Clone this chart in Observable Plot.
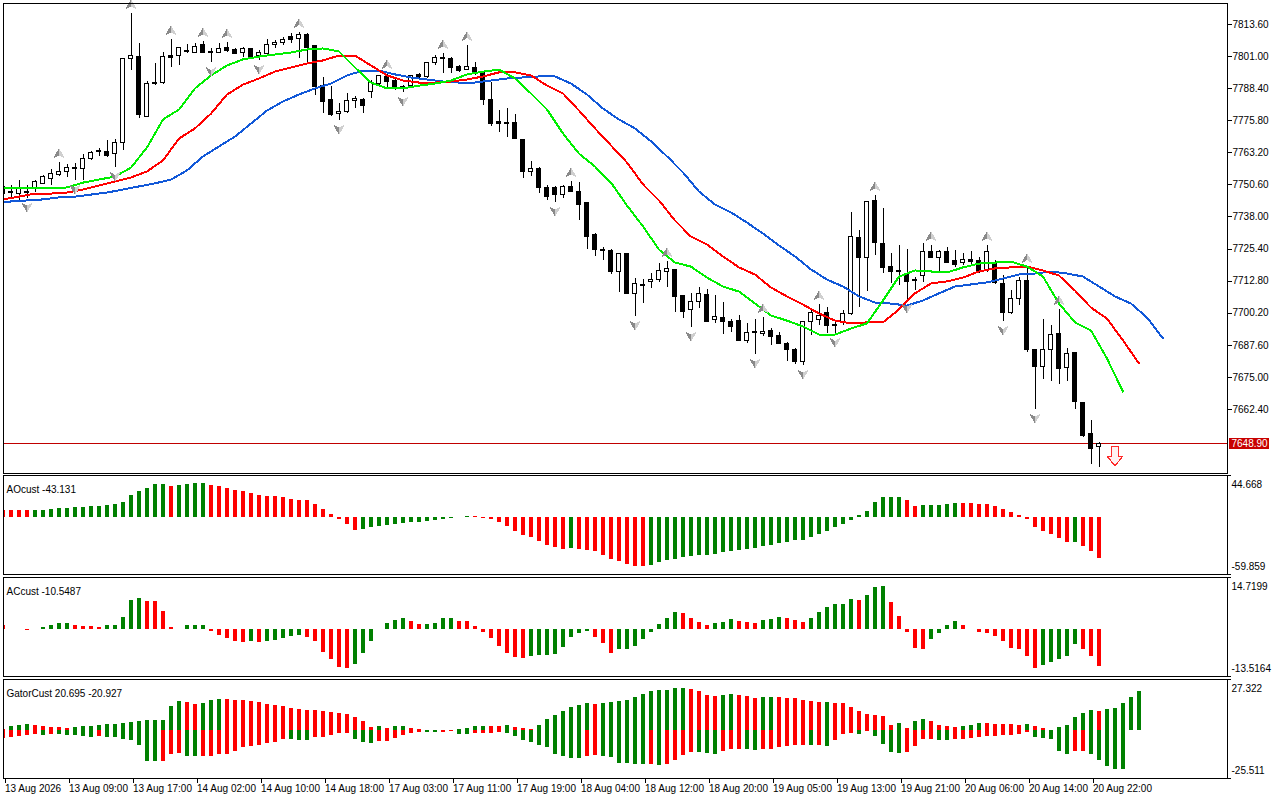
<!DOCTYPE html>
<html>
<head>
<meta charset="utf-8">
<script src="https://cdn.jsdelivr.net/npm/d3@7"></script>
<script src="https://cdn.jsdelivr.net/npm/@observablehq/plot@0.6"></script>
<style>
  html, body { margin: 0; padding: 0; background: #fff; }
  #chart { position: relative; width: 1280px; height: 800px; background: #fff; overflow: hidden; }
  #chart svg { position: absolute; left: 0; background: transparent !important; }
</style>
</head>
<body>
<div id="chart"></div>
<script>
// ---------------- data ----------------
const priceTicks = [7813.6, 7801.0, 7788.4, 7775.8, 7763.2, 7750.6, 7738.0, 7725.4, 7712.8, 7700.2, 7687.6, 7675.0, 7662.4];
const priceRange = [7637.25, 7821.85];
const aoRange = [-59.859, 44.668];
const acRange = [-13.5164, 14.7199];
const gatorRange = [-25.511, 27.322];

const xTickBars = [0, 8, 16, 24, 32, 40, 48, 56, 64, 72, 80, 88, 96, 104, 112, 120, 128, 136];
const xTickLabels = ["13 Aug 2026", "13 Aug 09:00", "13 Aug 17:00", "14 Aug 02:00", "14 Aug 10:00", "14 Aug 18:00",
  "17 Aug 03:00", "17 Aug 11:00", "17 Aug 19:00", "18 Aug 04:00", "18 Aug 12:00", "18 Aug 20:00",
  "19 Aug 05:00", "19 Aug 13:00", "19 Aug 21:00", "20 Aug 06:00", "20 Aug 14:00", "20 Aug 22:00"];

const barOpen = [7749.6, 7747.6, 7747.2, 7747.6, 7748.8, 7751.1, 7753.1, 7754.3, 7755.5, 7757.0,
 7757.0, 7760.6, 7764.1, 7763.7, 7762.9, 7766.9, 7799.9, 7801.0, 7777.4, 7790.4,
 7790.8, 7801.4, 7801.4, 7802.8, 7802.6, 7805.4, 7802.8, 7802.6, 7804.2, 7803.4,
 7802.6, 7803.8, 7801.4, 7802.2, 7805.4, 7806.5, 7808.5, 7808.1, 7809.3, 7805.0,
 7789.6, 7783.8, 7778.6, 7779.4, 7783.4, 7784.1, 7786.9, 7790.4, 7792.8, 7791.6,
 7788.9, 7789.6, 7793.6, 7792.8, 7798.3, 7800.6, 7799.9, 7797.1, 7795.9, 7796.7,
 7794.4, 7784.1, 7775.5, 7774.9, 7775.1, 7768.4, 7755.5, 7757.0, 7749.2, 7749.2,
 7746.8, 7749.6, 7748.0, 7743.3, 7731.1, 7725.0, 7724.8, 7716.2, 7723.3, 7707.9,
 7710.9, 7712.3, 7713.4, 7716.2, 7717.0, 7706.8, 7701.3, 7704.8, 7707.2, 7697.7,
 7698.5, 7696.9, 7697.3, 7689.1, 7692.4, 7692.2, 7693.4, 7691.4, 7688.3, 7685.6,
 7681.2, 7696.6, 7697.7, 7700.1, 7695.6, 7696.2, 7699.7, 7729.9, 7721.7, 7744.1,
 7727.2, 7718.2, 7716.8, 7715.8, 7712.9, 7715.0, 7724.1, 7721.7, 7724.1, 7720.9,
 7720.1, 7721.3, 7720.9, 7716.6, 7719.7, 7711.5, 7700.1, 7705.6, 7712.7, 7685.9,
 7678.9, 7685.6, 7692.2, 7678.5, 7684.4, 7665.1, 7652.6, 7647.5];
const barHigh = [7750.8, 7750.4, 7752.3, 7750.4, 7752.3, 7754.3, 7756.7, 7759.4, 7758.6, 7759.0,
 7762.5, 7763.7, 7764.9, 7768.0, 7768.4, 7800.2, 7817.9, 7806.1, 7791.2, 7798.3,
 7802.6, 7807.7, 7804.6, 7805.7, 7806.1, 7806.9, 7804.2, 7806.1, 7806.5, 7804.2,
 7804.6, 7804.2, 7803.4, 7807.7, 7807.3, 7808.5, 7810.1, 7810.5, 7810.1, 7805.4,
 7792.8, 7789.2, 7782.6, 7786.5, 7785.3, 7784.5, 7791.6, 7793.6, 7794.4, 7792.8,
 7789.6, 7793.6, 7794.4, 7798.7, 7801.4, 7802.2, 7800.6, 7797.5, 7805.4, 7798.7,
 7794.7, 7790.8, 7779.8, 7780.6, 7778.2, 7768.4, 7759.8, 7757.4, 7750.4, 7750.0,
 7750.4, 7751.9, 7751.5, 7743.3, 7731.5, 7726.0, 7725.2, 7723.6, 7723.6, 7713.8,
 7713.4, 7715.8, 7719.7, 7720.5, 7717.4, 7707.2, 7707.9, 7710.3, 7709.5, 7707.2,
 7704.4, 7697.7, 7699.3, 7696.2, 7697.7, 7698.5, 7694.2, 7692.6, 7688.7, 7686.3,
 7696.6, 7701.7, 7703.6, 7702.5, 7697.3, 7701.3, 7739.8, 7732.7, 7744.1, 7746.4,
 7741.3, 7723.6, 7726.8, 7725.2, 7714.2, 7727.6, 7726.8, 7724.8, 7726.0, 7724.8,
 7723.6, 7724.4, 7722.1, 7726.8, 7720.9, 7715.0, 7709.1, 7714.2, 7718.2, 7685.9,
 7697.7, 7695.4, 7701.7, 7686.3, 7684.4, 7665.1, 7658.1, 7649.4];
const barLow = [7746.8, 7745.6, 7744.5, 7745.3, 7747.6, 7750.8, 7750.4, 7753.9, 7753.5, 7752.3,
 7752.3, 7760.2, 7761.8, 7761.4, 7757.4, 7764.1, 7795.5, 7776.7, 7777.4, 7789.6,
 7790.0, 7796.7, 7797.5, 7802.2, 7802.2, 7802.2, 7798.6, 7802.2, 7802.6, 7801.8,
 7800.6, 7800.6, 7799.5, 7801.4, 7804.2, 7805.4, 7806.1, 7800.2, 7798.7, 7785.7,
 7778.6, 7777.4, 7775.9, 7778.6, 7780.6, 7778.6, 7784.5, 7789.6, 7788.5, 7787.7,
 7786.9, 7788.9, 7791.6, 7792.4, 7797.5, 7794.4, 7794.4, 7794.7, 7795.5, 7793.6,
 7781.8, 7773.5, 7771.2, 7769.2, 7768.4, 7753.1, 7753.9, 7747.2, 7744.5, 7743.7,
 7745.3, 7747.6, 7736.6, 7725.2, 7722.5, 7720.9, 7715.4, 7708.3, 7707.6, 7698.9,
 7704.0, 7709.9, 7712.3, 7710.3, 7700.5, 7698.1, 7694.6, 7702.1, 7696.9, 7696.2,
 7691.8, 7692.6, 7689.1, 7688.3, 7684.0, 7691.0, 7687.5, 7687.9, 7681.2, 7680.1,
 7679.7, 7691.4, 7695.4, 7692.2, 7692.2, 7695.4, 7699.3, 7702.5, 7708.7, 7722.9,
 7715.8, 7711.9, 7711.1, 7705.6, 7709.1, 7712.3, 7721.7, 7715.8, 7719.7, 7718.2,
 7718.9, 7719.3, 7715.8, 7716.2, 7711.5, 7696.9, 7699.7, 7703.2, 7684.8, 7662.4,
 7674.2, 7673.4, 7672.2, 7673.4, 7662.4, 7651.4, 7640.8, 7639.6];
const barClose = [7747.2, 7747.9, 7749.2, 7748.0, 7751.9, 7753.9, 7754.7, 7755.5, 7757.4, 7757.4,
 7760.6, 7763.3, 7763.7, 7762.1, 7767.2, 7799.9, 7801.4, 7777.9, 7790.4, 7790.8,
 7801.0, 7800.4, 7804.2, 7803.2, 7804.6, 7802.6, 7802.4, 7803.8, 7803.0, 7802.2,
 7803.8, 7801.0, 7802.6, 7805.4, 7806.5, 7807.7, 7807.7, 7809.3, 7804.2, 7789.2,
 7783.0, 7777.9, 7779.4, 7783.4, 7784.5, 7781.4, 7790.8, 7793.2, 7791.2, 7788.5,
 7789.2, 7793.2, 7792.8, 7798.3, 7800.6, 7799.9, 7796.7, 7795.5, 7797.1, 7794.7,
 7784.1, 7774.7, 7774.7, 7774.5, 7768.8, 7755.5, 7757.0, 7749.2, 7746.0, 7746.8,
 7749.6, 7748.0, 7742.9, 7730.3, 7725.2, 7724.6, 7716.2, 7723.6, 7707.6, 7711.5,
 7711.3, 7713.1, 7716.6, 7717.4, 7706.4, 7700.5, 7704.8, 7707.6, 7696.9, 7698.9,
 7696.9, 7694.6, 7689.1, 7692.6, 7692.8, 7693.0, 7691.0, 7688.3, 7685.9, 7681.2,
 7696.6, 7700.1, 7699.3, 7695.0, 7695.2, 7699.7, 7730.3, 7721.7, 7743.7, 7727.6,
 7717.8, 7716.2, 7716.4, 7712.3, 7713.3, 7724.1, 7721.7, 7724.1, 7720.1, 7719.3,
 7721.3, 7720.5, 7716.2, 7724.4, 7711.9, 7700.1, 7705.6, 7712.7, 7685.9, 7678.9,
 7685.9, 7691.8, 7678.1, 7684.0, 7665.5, 7651.8, 7646.7, 7648.9];

// Alligator lines, read every 2 bars (jaw from bar -1, teeth & lips from bar 0)
const lineStep = 2;
const jawFirstBar = -1, teethFirstBar = 0, lipsFirstBar = 0;
const jawValues = [7743.3, 7744.1, 7744.5, 7744.9, 7745.7, 7746.0, 7746.8, 7747.6, 7748.8, 7750.0,
 7751.2, 7752.7, 7756.3, 7761.8, 7765.7, 7769.6, 7774.7, 7779.8, 7783.4, 7786.1,
 7788.5, 7790.4, 7793.6, 7795.5, 7795.5, 7794.0, 7792.8, 7792.0, 7791.2, 7790.8,
 7790.8, 7791.6, 7792.4, 7792.8, 7793.2, 7793.2, 7790.4, 7786.1, 7780.6, 7776.3,
 7772.8, 7767.7, 7761.8, 7755.5, 7748.0, 7742.9, 7739.8, 7735.8, 7731.5, 7726.8,
 7722.5, 7717.4, 7713.4, 7710.7, 7706.8, 7704.4, 7704.0, 7703.2, 7705.2, 7708.0,
 7710.7, 7711.5, 7712.3, 7713.8, 7715.4, 7715.8, 7716.6, 7715.8, 7714.6, 7710.7,
 7706.8, 7704.0, 7698.5, 7690.3];
const teethValues = [7744.9, 7746.0, 7747.2, 7747.2, 7747.6, 7748.8, 7750.4, 7751.9, 7753.5, 7755.9,
 7760.2, 7768.8, 7772.8, 7778.6, 7786.1, 7790.0, 7792.4, 7795.1, 7796.7, 7798.3,
 7799.5, 7801.4, 7801.4, 7797.5, 7793.6, 7791.6, 7790.8, 7790.8, 7791.2, 7792.0,
 7793.2, 7794.8, 7794.8, 7793.6, 7789.6, 7786.5, 7779.8, 7772.8, 7766.1, 7759.4,
 7750.8, 7744.5, 7736.6, 7730.3, 7727.2, 7722.5, 7718.2, 7715.4, 7710.3, 7706.8,
 7703.6, 7700.1, 7697.3, 7696.2, 7696.6, 7696.6, 7701.7, 7708.0, 7711.9, 7712.7,
 7714.2, 7716.6, 7717.8, 7718.2, 7718.5, 7717.0, 7715.0, 7709.1, 7702.4, 7698.1,
 7689.5, 7680.5];
const lipsValues = [7749.2, 7749.2, 7749.2, 7749.2, 7749.6, 7751.5, 7752.7, 7753.9, 7757.4, 7765.3,
 7776.3, 7780.2, 7788.5, 7793.6, 7797.5, 7799.9, 7801.0, 7801.8, 7802.6, 7803.8,
 7804.2, 7803.0, 7796.7, 7790.8, 7788.5, 7788.5, 7789.6, 7790.4, 7791.6, 7794.0,
 7795.1, 7795.9, 7792.4, 7786.5, 7780.2, 7770.8, 7762.9, 7757.8, 7751.5, 7742.5,
 7734.3, 7725.2, 7720.1, 7718.5, 7714.2, 7710.7, 7708.7, 7704.0, 7699.3, 7697.3,
 7695.0, 7691.8, 7691.8, 7694.2, 7696.2, 7705.2, 7714.6, 7717.0, 7716.6, 7716.2,
 7718.2, 7719.7, 7720.1, 7720.5, 7718.5, 7714.6, 7704.0, 7696.6, 7693.4, 7682.4,
 7669.4];

const fractalUpBars = [7, 16, 21, 25, 28, 37, 48, 55, 58, 71, 83, 95, 102, 109, 116, 123, 128, 132];
const fractalDownBars = [3, 9, 14, 26, 32, 42, 50, 69, 79, 86, 94, 100, 104, 113, 125, 129];
const signalBars = [139];
const signalPrices = [7643.9];

const aoValues = [8.09, 8.0, 7.39, 7.30, 7.57, 8.09, 9.15, 9.33, 9.85, 10.91,
 11.09, 11.61, 12.32, 12.67, 13.73, 16.54, 23.93, 28.15, 30.97, 34.84,
 35.54, 32.73, 33.79, 35.54, 35.72, 35.90, 34.49, 33.43, 30.97, 29.21,
 27.45, 25.69, 23.93, 22.88, 22.17, 21.12, 19.71, 18.65, 17.95, 14.43,
 9.15, 3.87, -1.76, -6.69, -13.02, -11.97, -10.21, -9.50, -7.74, -7.04,
 -5.98, -5.28, -5.10, -4.22, -3.17, -1.76, -1.06, 0.70, 1.76, 1.58,
 -0.70, -1.76, -5.28, -9.50, -14.08, -18.30, -21.12, -24.64, -28.86, -31.67,
 -33.08, -32.91, -33.08, -34.14, -35.19, -39.42, -43.64, -46.45, -48.92, -51.03,
 -51.38, -50.68, -47.51, -45.40, -43.64, -41.88, -40.47, -40.30, -40.12, -38.36,
 -36.95, -35.90, -34.14, -33.43, -32.73, -30.62, -28.86, -27.10, -26.04, -24.28,
 -24.11, -21.12, -17.60, -14.08, -10.56, -7.04, -2.46, 2.11, 7.04, 15.84,
 21.12, 21.29, 21.47, 18.65, 12.32, 12.49, 12.67, 13.37, 14.43, 15.48,
 15.31, 14.6, 14.1, 13.7, 11.6, 8.8, 5.3, 2.1, -2.1, -10.2,
 -14.4, -17.9, -22.2, -26.0, -25.9, -30.3, -35.5, -43.131];

const acValues = [0.95, -0.19, -0.25, -0.38, -0.19, 0.57, 1.14, 1.52, 1.71, 0.95,
 0.86, 0.76, 0.57, 0.95, 1.14, 3.42, 8.18, 8.84, 7.89, 7.80,
 5.04, 0.57, -0.19, 0.95, 1.05, 1.10, -0.57, -1.81, -2.57, -3.52,
 -3.71, -3.52, -3.71, -3.52, -3.23, -2.76, -2.00, -1.81, -2.28, -3.52,
 -6.56, -8.75, -10.84, -11.12, -10.08, -6.85, -3.42, -0.19, 1.52, 2.47,
 3.14, 2.19, 1.24, 1.33, 1.71, 2.95, 3.14, 2.28, 2.19, 0.76,
 -0.95, -2.76, -4.85, -6.85, -8.18, -8.27, -7.80, -7.51, -7.42, -7.23,
 -5.13, -2.47, -1.14, -0.76, -2.28, -3.99, -7.04, -5.89, -5.80, -4.85,
 -3.04, -0.86, 1.33, 2.95, 4.66, 4.56, 2.95, 2.00, 1.05, 1.71,
 2.00, 2.76, 2.19, 1.81, 1.52, 2.47, 2.76, 3.42, 3.14, 2.47,
 2.00, 3.14, 4.85, 6.27, 7.04, 7.13, 8.46, 8.18, 9.60, 11.98,
 12.26, 7.61, 3.71, -0.86, -5.42, -5.80, -2.95, -1.14, 1.05, 2.19,
 1.05, -0.19, -0.86, -1.33, -2.00, -3.61, -5.61, -5.89, -7.70, -11.12,
 -10.46, -9.60, -8.75, -7.89, -4.47, -5.89, -7.89, -10.5487];

const gatorUpper = [0.80, 2.05, 2.94, 3.11, 2.76, 2.05, 1.69, 1.51, 1.16, 1.51,
 2.05, 2.40, 2.94, 3.29, 3.47, 3.65, 4.18, 4.71, 5.25, 5.43,
 5.60, 13.08, 15.39, 15.21, 14.14, 14.32, 15.92, 16.63, 16.46, 16.28,
 16.10, 15.74, 14.85, 14.14, 13.61, 12.72, 11.83, 11.12, 10.76, 10.59,
 10.41, 9.52, 9.16, 8.63, 7.03, 4.71, 1.69, 2.05, 1.16, 2.05,
 2.22, 1.16, 0.80, 0.09, 0.18, 0.09, 0.04, 0.62, 1.16, 2.05,
 2.40, 2.22, 2.05, 2.58, 1.69, 1.16, 0.80, 2.94, 5.96, 7.92,
 10.05, 12.19, 13.61, 14.50, 13.97, 14.50, 14.85, 15.74, 16.28, 17.70,
 19.48, 20.73, 21.26, 21.61, 22.50, 22.68, 22.15, 20.73, 18.95, 18.41,
 18.95, 19.48, 18.95, 18.06, 17.17, 17.52, 17.70, 17.52, 17.17, 16.99,
 16.28, 15.39, 15.03, 15.21, 14.50, 14.32, 12.36, 10.41, 8.63, 8.27,
 7.38, 2.94, 3.82, 1.16, 4.71, 6.14, 4.71, 2.94, 2.40, 1.69,
 2.40, 2.94, 3.82, 3.65, 3.29, 3.20, 3.11, 3.02, 3.47, 2.40,
 1.16, 0.09, 1.69, 2.94, 7.03, 9.16, 10.94, 10.05, 11.30, 11.83,
 14.50, 17.70, 20.695];
const gatorLower = [-4.18, -3.82, -2.94, -2.40, -2.05, -2.40, -1.87, -2.05, -2.40, -2.76,
 -3.29, -3.47, -3.29, -3.47, -3.82, -4.71, -5.43, -8.09, -16.28, -16.63,
 -16.46, -12.54, -12.36, -13.61, -13.97, -13.79, -13.61, -12.72, -12.54, -10.94,
 -9.16, -8.27, -8.09, -6.85, -6.49, -4.71, -4.89, -5.07, -5.25, -3.65,
 -3.47, -2.76, -1.69, -1.51, -4.71, -6.49, -6.67, -5.96, -5.78, -4.18,
 -2.40, -1.51, -0.98, -1.07, -1.16, -0.80, -0.62, -1.87, -2.05, -1.69,
 -1.51, -1.33, -1.16, -1.33, -2.94, -5.43, -6.49, -7.74, -9.16, -12.54,
 -13.61, -14.85, -15.03, -13.97, -13.08, -13.97, -14.50, -17.52, -17.70, -17.88,
 -18.06, -17.88, -18.41, -18.23, -15.74, -13.08, -11.65, -11.83, -12.01, -12.54,
 -11.30, -10.05, -9.87, -10.05, -10.76, -10.05, -9.87, -8.98, -8.27, -8.09,
 -7.92, -8.09, -7.74, -8.63, -5.07, -1.87, -1.51, -1.87, -0.62, -3.29,
 -7.20, -11.83, -12.01, -11.83, -8.27, -4.71, -4.54, -5.07, -5.43, -4.71,
 -4.54, -4.18, -3.65, -3.29, -2.94, -2.76, -2.40, -2.05, -1.16, -3.82,
 -4.00, -4.71, -11.30, -12.72, -11.30, -11.12, -12.54, -16.10, -19.30, -20.73,
 -20.927];

// ---------------- derived tables ----------------
const candles = barOpen.map((o, i) => ({i, open: o, high: barHigh[i], low: barLow[i], close: barClose[i]}));
const lineTable = (vals, first) => vals.map((v, k) => ({i: first + k * lineStep, v}));
const jawData = lineTable(jawValues, jawFirstBar);
const teethData = lineTable(teethValues, teethFirstBar);
const lipsData = lineTable(lipsValues, lipsFirstBar);
const histo = (vals, useAbs) => vals.map((v, i) => ({
  i, v,
  rising: i > 0 && (useAbs ? Math.abs(v) > Math.abs(vals[i - 1]) : v > vals[i - 1])
}));
const aoData = histo(aoValues, false);
const acData = histo(acValues, false);
const gUpData = histo(gatorUpper, true);
const gLowData = histo(gatorLower, true);
const lastClose = barClose[barClose.length - 1];
const signals = signalBars.map((b, k) => ({i: b, p: signalPrices[k]}));

// ---------------- styling ----------------
const GREEN = "#008000", RED = "#ff0000";
const xDomain = [0.0625, 153.0625];
const baseStyle = {
  background: "transparent",
  fontFamily: "'Liberation Sans', Arial, sans-serif",
  fontSize: "10px",
  color: "black",
  shapeRendering: "crispEdges",
  overflow: "visible"
};

// custom symbols
const arrowHalf = (dir, side) => ({
  draw(ctx, size) {
    const r = Math.sqrt(size / Math.PI);
    ctx.moveTo(0, -0.9 * r * dir);
    ctx.lineTo(side * r, 0.85 * r * dir);
    ctx.lineTo(0, 0.3 * r * dir);
    ctx.closePath();
  }
});
const blockDown = {
  draw(ctx, size) {
    const r = Math.sqrt(size / Math.PI);
    ctx.moveTo(-0.42 * r, -1.3 * r);
    ctx.lineTo(0.42 * r, -1.3 * r);
    ctx.lineTo(0.42 * r, 0);
    ctx.lineTo(r, 0);
    ctx.lineTo(0, 1.25 * r);
    ctx.lineTo(-r, 0);
    ctx.lineTo(-0.42 * r, 0);
    ctx.closePath();
  }
};
const labelBox = {
  draw(ctx) { ctx.rect(-20, -5.5, 40, 11); }
};

const fractalMarks = [];
for (const [bars, dir, get] of [[fractalUpBars, 1, d => barHigh[d]], [fractalDownBars, -1, d => barLow[d]]]) {
  fractalMarks.push(
    Plot.dot(bars, {x: d => d, y: get, dy: -9 * dir, r: 6, symbol: arrowHalf(dir, -1), fill: "#8a8a8a", stroke: "none"}),
    Plot.dot(bars, {x: d => d, y: get, dy: -9 * dir, r: 6, symbol: arrowHalf(dir, 1), fill: "#cfcfcf", stroke: "none"})
  );
}

const histRect = (data) => Plot.rect(data, {
  x1: d => d.i - 0.1875, x2: d => d.i + 0.3125, y1: 0, y2: "v",
  fill: d => d.rising ? GREEN : RED, clip: true
});

const sideLabels = (range, name) => [
  Plot.axisY({anchor: "right", ticks: range, tickSize: 3, tickFormat: () => "", label: null}),
  Plot.text([range[1]], {frameAnchor: "top-right", dx: 4, dy: 5.5, textAnchor: "start", text: d => String(d)}),
  Plot.text([range[0]], {frameAnchor: "bottom-right", dx: 4, dy: -4.5, textAnchor: "start", text: d => String(d)}),
  Plot.text([name], {frameAnchor: "top-left", dx: 3, dy: 10, textAnchor: "start", text: d => d})
];

// ---------------- main price panel ----------------
const mainPlot = Plot.plot({
  width: 1280, height: 476,
  marginTop: 3, marginBottom: 3, marginLeft: 3, marginRight: 53,
  x: {domain: xDomain, axis: null},
  y: {domain: priceRange},
  style: baseStyle,
  marks: [
    Plot.ruleY([lastClose], {stroke: "#c00000"}),
    Plot.ruleX(candles, {x: "i", y1: "low", y2: "high", stroke: "black", clip: true}),
    Plot.rect(candles, {
      x1: d => d.i - 0.25, x2: d => d.i + 0.25, y1: "open", y2: "close",
      fill: d => d.close > d.open ? "white" : "black", stroke: "black", clip: true
    }),
    Plot.line(jawData, {x: "i", y: "v", stroke: "#1158d8", strokeWidth: 2, clip: true}),
    Plot.line(teethData, {x: "i", y: "v", stroke: "#ff0000", strokeWidth: 2, clip: true}),
    Plot.line(lipsData, {x: "i", y: "v", stroke: "#00ee00", strokeWidth: 2, clip: true}),
    ...fractalMarks,
    Plot.dot(signals, {x: "i", y: "p", r: 7.5, symbol: blockDown, fill: "#fff2f2", stroke: "#ff2a2a", strokeWidth: 1.2}),
    Plot.frame({stroke: "black"}),
    Plot.axisY({anchor: "right", ticks: priceTicks, tickFormat: d => d.toFixed(2), tickSize: 4, tickPadding: 1, label: null}),
    Plot.dot([lastClose], {y: d => d, frameAnchor: "right", dx: 21, symbol: labelBox, fill: "#c80000", stroke: "none"}),
    Plot.text([lastClose], {y: d => d, frameAnchor: "right", dx: 4, textAnchor: "start", fill: "white", text: d => d.toFixed(2)})
  ]
});

// ---------------- AO panel ----------------
const aoPlot = Plot.plot({
  width: 1280, height: 105,
  marginTop: 3, marginBottom: 3, marginLeft: 3, marginRight: 53,
  x: {domain: xDomain, axis: null},
  y: {domain: aoRange},
  style: baseStyle,
  marks: [
    histRect(aoData),
    Plot.frame({stroke: "black"}),
    ...sideLabels(aoRange, `AOcust ${aoValues[aoValues.length - 1]}`)
  ]
});

// ---------------- AC panel ----------------
const acPlot = Plot.plot({
  width: 1280, height: 105,
  marginTop: 3, marginBottom: 3, marginLeft: 3, marginRight: 53,
  x: {domain: xDomain, axis: null},
  y: {domain: acRange},
  style: baseStyle,
  marks: [
    histRect(acData),
    Plot.frame({stroke: "black"}),
    ...sideLabels(acRange, `ACcust ${acValues[acValues.length - 1]}`)
  ]
});

// ---------------- Gator panel ----------------
const gatorPlot = Plot.plot({
  width: 1280, height: 124,
  marginTop: 3, marginBottom: 22, marginLeft: 3, marginRight: 53,
  x: {domain: xDomain},
  y: {domain: gatorRange},
  style: baseStyle,
  marks: [
    histRect(gUpData),
    histRect(gLowData),
    Plot.frame({stroke: "black"}),
    ...sideLabels(gatorRange, `GatorCust ${gatorUpper[gatorUpper.length - 1]} ${gatorLower[gatorLower.length - 1]}`),
    Plot.axisX({
      anchor: "bottom", ticks: xTickBars,
      tickFormat: d => xTickLabels[xTickBars.indexOf(d)],
      tickSize: 5, tickPadding: 1, textAnchor: "start", dx: 2, label: null
    })
  ]
});

const chart = document.getElementById("chart");
for (const [svg, top] of [[mainPlot, 0], [aoPlot, 472], [acPlot, 574], [gatorPlot, 676]]) {
  svg.style.position = "absolute";
  svg.style.left = "0px";
  svg.style.top = top + "px";
  chart.append(svg);
}
</script>
</body>
</html>
